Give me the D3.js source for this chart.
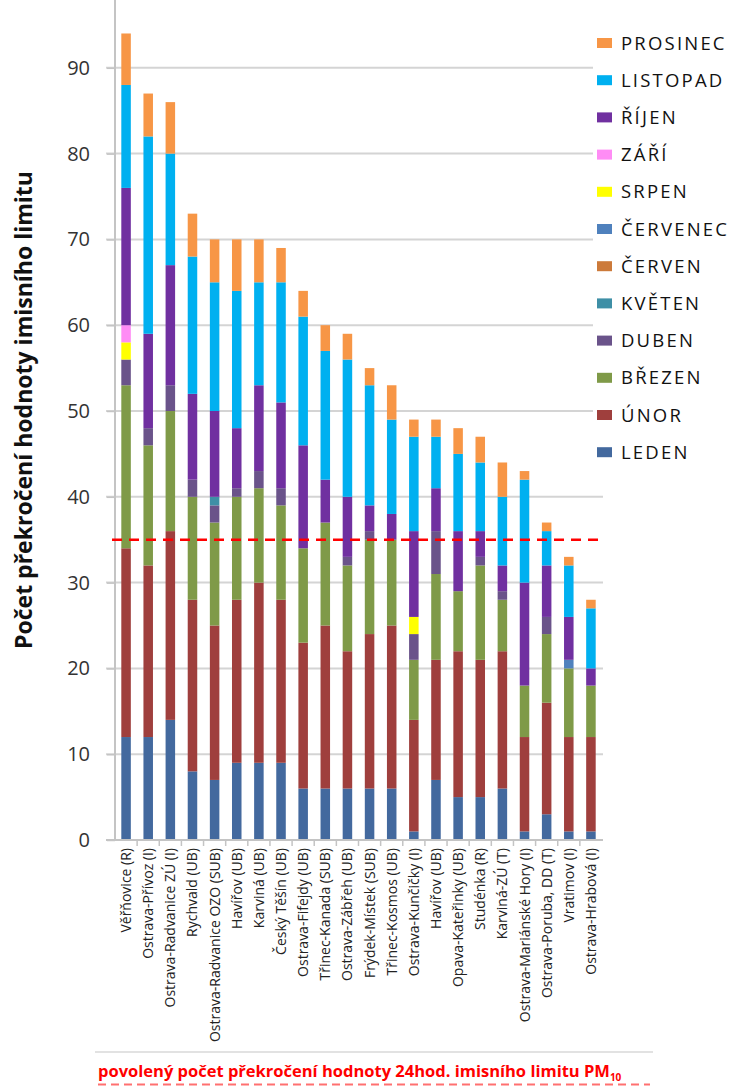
<!DOCTYPE html>
<html>
<head>
<meta charset="utf-8">
<script src="https://cdn.jsdelivr.net/npm/d3@7"></script>
<style>
  body { margin: 0; background: #fff; }
  svg { display: block; }
  text { font-family: 'Open Sans', sans-serif; }
</style>
</head>
<body>
<div id="chart"></div>
<script>
var stations = [
  'Věřňovice (R)', 'Ostrava-Přívoz (I)', 'Ostrava-Radvanice ZÚ (I)', 'Rychvald (UB)',
  'Ostrava-Radvanice OZO (SUB)', 'Havířov (UB)', 'Karviná (UB)', 'Český Těšín (UB)',
  'Ostrava-Fifejdy (UB)', 'Třinec-Kanada (SUB)', 'Ostrava-Zábřeh (UB)', 'Frýdek-Místek (SUB)',
  'Třinec-Kosmos (UB)', 'Ostrava-Kunčičky (I)', 'Havířov (UB)', 'Opava-Kateřinky (UB)',
  'Studénka (R)', 'Karviná-ZÚ (T)', 'Ostrava-Mariánské Hory (I)', 'Ostrava-Poruba, DD (T)',
  'Vratimov (I)', 'Ostrava-Hrabová (I)'
]

var months = ['LEDEN', 'ÚNOR', 'BŘEZEN', 'DUBEN', 'KVĚTEN', 'ČERVEN',
  'ČERVENEC', 'SRPEN', 'ZÁŘÍ', 'ŘÍJEN', 'LISTOPAD', 'PROSINEC']

var monthColors = ['#43699e', '#9f3f3d', '#7f9a48', '#6a538a', '#3e8fa6', '#cc7a3a',
  '#4f81bd', '#ffff00', '#ff8cf5', '#7030a0', '#00b0f0', '#f79646']

// počty překročení po měsících, jedna hodnota na stanici
var leden    = [12, 12, 14, 8, 7, 9, 9, 9, 6, 6, 6, 6, 6, 1, 7, 5, 5, 6, 1, 3, 1, 1]
var unor     = [22, 20, 22, 20, 18, 19, 21, 19, 17, 19, 16, 18, 19, 13, 14, 17, 16, 16, 11, 13, 11, 11]
var brezen   = [19, 14, 14, 12, 12, 12, 11, 11, 11, 12, 10, 11, 10, 7, 10, 7, 11, 6, 6, 8, 8, 6]
var duben    = [3, 2, 3, 2, 2, 1, 2, 2, 0, 0, 1, 1, 0, 3, 5, 0, 1, 1, 0, 2, 0, 0]
var kveten   = [0, 0, 0, 0, 1, 0, 0, 0, 0, 0, 0, 0, 0, 0, 0, 0, 0, 0, 0, 0, 0, 0]
var cerven   = [0, 0, 0, 0, 0, 0, 0, 0, 0, 0, 0, 0, 0, 0, 0, 0, 0, 0, 0, 0, 0, 0]
var cervenec = [0, 0, 0, 0, 0, 0, 0, 0, 0, 0, 0, 0, 0, 0, 0, 0, 0, 0, 0, 0, 1, 0]
var srpen    = [2, 0, 0, 0, 0, 0, 0, 0, 0, 0, 0, 0, 0, 2, 0, 0, 0, 0, 0, 0, 0, 0]
var zari     = [2, 0, 0, 0, 0, 0, 0, 0, 0, 0, 0, 0, 0, 0, 0, 0, 0, 0, 0, 0, 0, 0]
var rijen    = [16, 11, 14, 10, 10, 7, 10, 10, 12, 5, 7, 3, 3, 10, 5, 7, 3, 3, 12, 6, 5, 2]
var listopad = [12, 23, 13, 16, 15, 16, 12, 14, 15, 15, 16, 14, 11, 11, 6, 9, 8, 8, 12, 4, 6, 7]
var prosinec = [6, 5, 6, 5, 5, 6, 5, 4, 3, 3, 3, 2, 4, 2, 2, 3, 3, 4, 1, 1, 1, 1]

var limit = 35
var yTicks = [0, 10, 20, 30, 40, 50, 60, 70, 80, 90]

var series = [leden, unor, brezen, duben, kveten, cerven, cervenec, srpen, zari, rijen, listopad, prosinec]

var rows = stations.map(function(name, i) {
  var row = { idx: i, name: name }
  months.forEach(function(m, j) {
    row[m] = series[j][i]
  })
  return row
})

var width = 741
var height = 1086

var svg = d3.select('#chart')
  .append('svg')
  .attr('width', width)
  .attr('height', height)

var xPositionScale = d3.scaleBand()
  .domain(rows.map(d => d.idx))
  .range([115, 602])
  .paddingInner(0.57)
  .paddingOuter(0.285)

var yPositionScale = d3.scaleLinear()
  .domain([0, 100])
  .range([840, -18])

var colorScale = d3.scaleOrdinal().domain(months).range(monthColors)

// mřížka
svg.append('g')
  .selectAll('line')
  .data(yTicks.slice(1))
  .enter()
  .append('line')
  .attr('x1', 106)
  .attr('x2', 603)
  .attr('y1', d => yPositionScale(d))
  .attr('y2', d => yPositionScale(d))
  .attr('stroke', '#d4d4d4')
  .attr('stroke-width', 2)

// osa y
var yAxis = d3.axisLeft(yPositionScale)
  .tickValues(yTicks)
  .tickSize(8)
  .tickPadding(17)

svg.append('g')
  .attr('class', 'y-axis')
  .attr('transform', 'translate(115,0)')
  .call(yAxis)
  .call(g => g.select('.domain').attr('d', 'M0,0V840').attr('stroke', '#c4c4c4').attr('stroke-width', 2))
  .call(g => g.selectAll('.tick line').attr('stroke', '#c4c4c4').attr('stroke-width', 1.5))
  .call(g => g.selectAll('.tick text')
    .attr('font-size', 20)
    .attr('font-family', "'Open Sans', sans-serif")
    .attr('fill', '#333'))

// sloupce
var stack = d3.stack().keys(months)
var stacked = stack(rows)

svg.append('g')
  .selectAll('g')
  .data(stacked)
  .enter()
  .append('g')
  .attr('fill', d => colorScale(d.key))
  .selectAll('rect')
  .data(d => d.filter(p => p[1] > p[0]))
  .enter()
  .append('rect')
  .attr('x', d => xPositionScale(d.data.idx))
  .attr('width', xPositionScale.bandwidth())
  .attr('y', d => yPositionScale(d[1]))
  .attr('height', d => yPositionScale(d[0]) - yPositionScale(d[1]))

// osa x
svg.append('line')
  .attr('x1', 106)
  .attr('x2', 603)
  .attr('y1', 840)
  .attr('y2', 840)
  .attr('stroke', '#c4c4c4')
  .attr('stroke-width', 2)

svg.append('g')
  .selectAll('line')
  .data(rows.slice(1))
  .enter()
  .append('line')
  .attr('x1', d => xPositionScale(d.idx) - xPositionScale.step() * xPositionScale.paddingInner() / 2)
  .attr('x2', d => xPositionScale(d.idx) - xPositionScale.step() * xPositionScale.paddingInner() / 2)
  .attr('y1', 840)
  .attr('y2', 846)
  .attr('stroke', '#c4c4c4')
  .attr('stroke-width', 1.5)

svg.append('g')
  .selectAll('.x-label')
  .data(rows)
  .enter()
  .append('text')
  .attr('class', 'x-label')
  .attr('transform', d => `translate(${xPositionScale(d.idx) + xPositionScale.bandwidth() / 2 + 5},848) rotate(-90)`)
  .attr('text-anchor', 'end')
  .attr('font-size', 14)
  .attr('fill', '#222')
  .text(d => d.name)

// limit 35
svg.append('line')
  .attr('x1', 112)
  .attr('x2', 603)
  .attr('y1', yPositionScale(limit))
  .attr('y2', yPositionScale(limit))
  .attr('stroke', '#ff0000')
  .attr('stroke-width', 2.5)
  .attr('stroke-dasharray', '10,7')

// popisek osy y
svg.append('text')
  .attr('transform', 'translate(32,410) rotate(-90)')
  .attr('text-anchor', 'middle')
  .attr('font-size', 23)
  .attr('font-weight', 'bold')
  .attr('fill', '#111')
  .attr('textLength', 478)
  .attr('lengthAdjust', 'spacingAndGlyphs')
  .text('Počet překročení hodnoty imisního limitu')

// legenda
var legend = svg.append('g')
legend.append('rect')
  .attr('x', 593)
  .attr('y', 25)
  .attr('width', 148)
  .attr('height', 445)
  .attr('fill', '#fff')

var legendItems = legend.selectAll('.legend-item')
  .data(months.slice().reverse())
  .enter()
  .append('g')
  .attr('class', 'legend-item')
  .attr('transform', (d, i) => `translate(597,${43 + i * 37.2})`)

legendItems.append('rect')
  .attr('x', 0)
  .attr('y', -5)
  .attr('width', 15)
  .attr('height', 10)
  .attr('fill', d => colorScale(d))

legendItems.append('text')
  .attr('x', 24)
  .attr('y', 6.5)
  .attr('font-size', 18.5)
  .attr('fill', '#111')
  .attr('letter-spacing', 2.2)
  .text(d => d)

// popisek pod grafem
svg.append('line')
  .attr('x1', 95)
  .attr('x2', 653)
  .attr('y1', 1052)
  .attr('y2', 1052)
  .attr('stroke', '#d9d9d9')
  .attr('stroke-width', 1.5)

var caption = svg.append('text')
  .attr('x', 98)
  .attr('y', 1077)
  .attr('font-size', 16.5)
  .attr('font-weight', 'bold')
  .attr('fill', '#ff0000')
caption.append('tspan').text('povolený počet překročení hodnoty 24hod. imisního limitu PM')
caption.append('tspan').attr('font-size', 10).attr('dy', 4).text('10')

svg.append('line')
  .attr('x1', 98)
  .attr('x2', 650)
  .attr('y1', 1084.5)
  .attr('y2', 1084.5)
  .attr('stroke', '#ff7070')
  .attr('stroke-width', 2)
  .attr('stroke-dasharray', '8,5')
</script>
</body>
</html>
